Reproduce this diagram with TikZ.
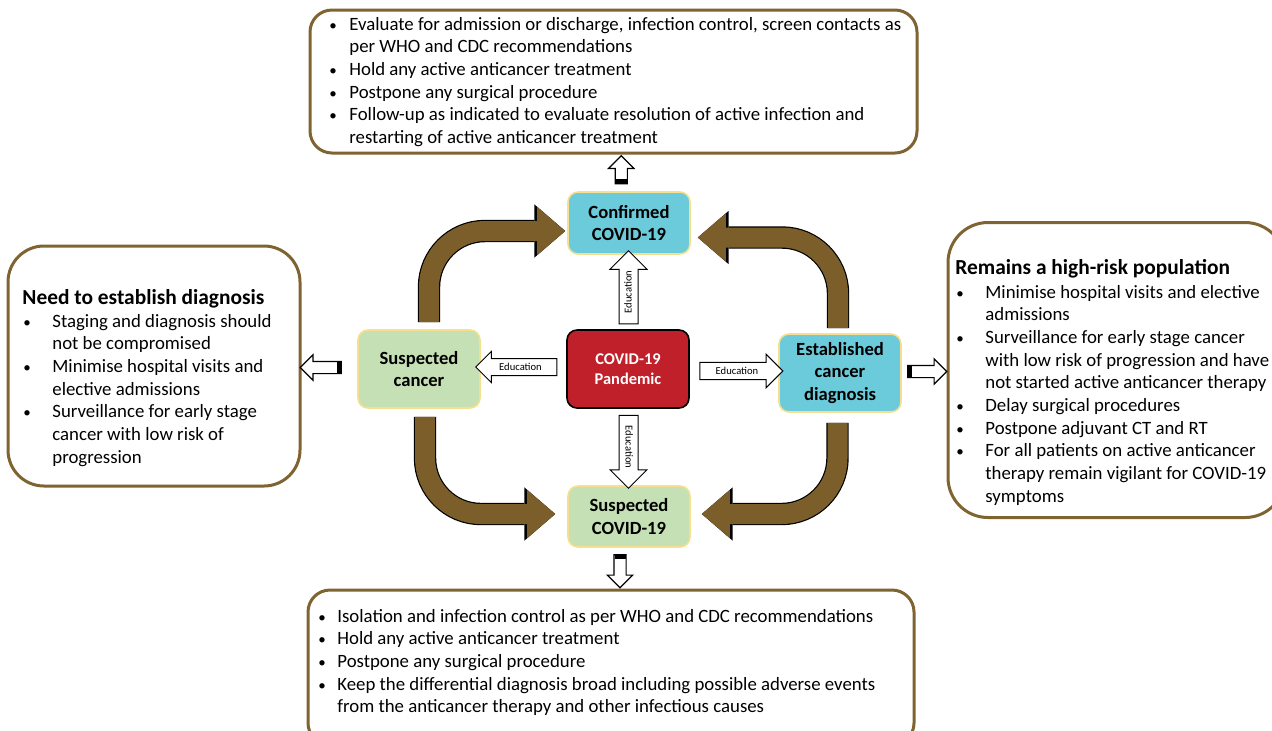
\documentclass[tikz,border=0pt]{standalone}
\usepackage{fontspec}
\setmainfont{Carlito}
\usetikzlibrary{positioning,arrows.meta,shapes.arrows,calc}
\definecolor{boxbrown}{HTML}{7F6330}
\definecolor{arrowbrown}{HTML}{7B5E2A}
\definecolor{cyanfill}{HTML}{6CCBDA}
\definecolor{greenfill}{HTML}{C5E0B4}
\definecolor{pandemicred}{HTML}{C0202A}
\definecolor{stageline}{HTML}{F6E08F}
\newcommand{\bodyfont}{\fontsize{9.4}{11.35}\selectfont}
\newcommand{\headfont}{\bfseries\fontsize{10.7}{13}\selectfont}
\newcommand{\bul}{{\fontsize{7.5}{8}\selectfont\textbullet}}

\begin{document}
\begin{tikzpicture}[x=0.5pt, y=-0.5pt,
    infobox/.style={draw=boxbrown, line width=1.5pt, fill=white},
    stage/.style={rectangle, rounded corners=5pt, draw=stageline, line width=0.8pt,
                  minimum width=61pt, align=center, font=\bfseries\fontsize{9.3}{11.3}\selectfont},
    edu/.style={single arrow, draw, fill=white, line width=0.5pt, single arrow tip angle=90,
                text height=4pt, text depth=1pt, inner xsep=0pt, font=\fontsize{5.3}{6}\selectfont},
    hollow/.style={single arrow, draw, fill=white, line width=0.6pt, inner xsep=0pt,
                   inner ysep=2.75pt, single arrow head extend=3.25pt, single arrow tip angle=90},
    bar/.style={line width=5.5pt},
    bigarrow/.style={draw=arrowbrown, line width=10pt, rounded corners=28pt,
                     -{Triangle[length=14pt, width=24pt, line width=0pt]},
                     preaction={draw=black, line width=11.2pt,
                                -{Triangle[length=15.4pt, width=26.6pt, line width=0pt]}}},
    listtext/.style={anchor=base west, inner sep=0pt, font=\bodyfont},
    heading/.style={anchor=base west, inner sep=0pt, font=\headfont},
]
  \clip (0,0) rectangle (1272,730);

  % text boxes
  \node[infobox, rounded corners=11pt, minimum width=303.5pt, minimum height=71.5pt] (topbox) at (613.5,81.5) {};
  \node[infobox, rounded corners=18pt, minimum width=146pt, minimum height=120pt] (leftbox) at (154,366) {};
  \node[infobox, rounded corners=20pt, minimum width=168.5pt, minimum height=147.5pt] (rightbox) at (1116.5,370) {};
  \node[infobox, rounded corners=11pt, minimum width=303pt, minimum height=77.5pt] (bottombox) at (611,667.5) {};

  % stages
  \node[stage, fill=cyanfill, minimum height=31pt] (confirmed) at (629,223) {Confirmed\\COVID-19};
  \node[stage, fill=pandemicred, draw=black, text=white, minimum height=39pt,
        font=\bfseries\fontsize{8.2}{9.7}\selectfont] (pandemic) at (628,369) {COVID-19\\Pandemic};
  \node[stage, fill=greenfill, minimum height=39pt] (scancer) at (419,369) {Suspected\\cancer};
  \node[stage, fill=cyanfill, minimum height=39pt] (established) at (840,373) {Established\\cancer\\diagnosis};
  \node[stage, fill=greenfill, minimum height=30.5pt] (scovid) at (629,516.5) {Suspected\\COVID-19};

  % education arrows
  \node[edu, rotate=90, minimum height=36.5pt, inner ysep=2pt, single arrow head extend=4.5pt]
    (eduup) at ($(pandemic.north)!0.5!(confirmed.south)$) {Education};
  \node[edu, rotate=-90, minimum height=36.5pt, inner ysep=2pt, single arrow head extend=4.5pt]
    (edudown) at ($(pandemic.south)!0.5!(scovid.north)$) {Education};
  \node[edu, shape border rotate=180, minimum height=40.5pt, inner ysep=1.5pt,
        single arrow head extend=3.5pt, xshift=-1.5pt, yshift=1pt]
    (eduleft) at ($(pandemic.west)!0.5!(scancer.east)$) {Education};
  \node[edu, minimum height=41.5pt, inner ysep=1.6pt, single arrow head extend=4pt, xshift=1.5pt]
    (eduright) at ($(pandemic.east)!0.5!(established.west)$) {Education};

  % arrows to the text boxes
  \node[hollow, rotate=90, minimum height=14pt] (toup) at ($(confirmed.north)!0.5!(topbox.south)$) {};
  \node[hollow, rotate=-90, minimum height=16.5pt] (todown) at ($(scovid.south)!0.5!(bottombox.north)$) {};
  \node[hollow, shape border rotate=180, minimum height=20.5pt, xshift=-2.75pt] (toleft) at ($(scancer.west)!0.5!(leftbox.east)$) {};
  \node[hollow, minimum height=19.5pt] (toright) at ($(established.east)!0.5!(rightbox.west)$) {};
  \draw[bar] (toup.tail) -- ($(toup.tail)!2.5pt!(toup.tip)$);
  \draw[bar] (todown.tail) -- ($(todown.tail)!2.5pt!(todown.tip)$);
  \draw[bar] (toleft.tail) -- ($(toleft.tail)!2.5pt!(toleft.tip)$);
  \draw[bar] (toright.tail) -- ($(toright.tail)!2.5pt!(toright.tip)$);

  % pathways
  \draw[bigarrow, shorten >=1pt] ([xshift=5pt, yshift=3.5pt]scancer.north) |- ([yshift=-4pt]confirmed.west);
  \draw[bigarrow, shorten >=3.5pt] ([xshift=-1pt, yshift=2.5pt]established.north) |- ([yshift=-7.25pt]confirmed.east);
  \draw[bigarrow, shorten >=6pt] ([xshift=3pt, yshift=-4pt]scancer.south) |- ([yshift=1.25pt]scovid.west);
  \draw[bigarrow, shorten >=5.5pt] ([xshift=-1.25pt, yshift=-5pt]established.south) |- ([yshift=1.25pt]scovid.east);

  % box texts
  \node[listtext] (toplist) at (329,30) {\begin{tabular}[t]{@{}p{10pt}@{}l@{}}
    \bul & Evaluate for admission or discharge, infection control, screen contacts as\\
         & per WHO and CDC recommendations\\
    \bul & Hold any active anticancer treatment\\
    \bul & Postpone any surgical procedure\\
    \bul & Follow-up as indicated to evaluate resolution of active infection and\\
         & restarting of active anticancer treatment
  \end{tabular}};
  \node[heading] (lefthead) at (22,304) {Need to establish diagnosis};
  \node[listtext] (leftlist) at (23,327) {\begin{tabular}[t]{@{}p{14.5pt}@{}l@{}}
    \bul & Staging and diagnosis should\\
         & not be compromised\\
    \bul & Minimise hospital visits and\\
         & elective admissions\\
    \bul & Surveillance for early stage\\
         & cancer with low risk of\\
         & progression
  \end{tabular}};
  \node[heading] (righthead) at (955,274) {Remains a high-risk population};
  \node[listtext] (rightlist) at (956,298) {\begin{tabular}[t]{@{}p{14.5pt}@{}l@{}}
    \bul & Minimise hospital visits and elective\\
         & admissions\\
    \bul & Surveillance for early stage cancer\\
         & with low risk of progression and have\\
         & not started active anticancer therapy\\
    \bul & Delay surgical procedures\\
    \bul & Postpone adjuvant CT and RT\\
    \bul & For all patients on active anticancer\\
         & therapy remain vigilant for COVID-19\\
         & symptoms
  \end{tabular}};
  \node[listtext] (bottomlist) at (318,622) {\begin{tabular}[t]{@{}p{9.5pt}@{}l@{}}
    \bul & Isolation and infection control as per WHO and CDC recommendations\\
    \bul & Hold any active anticancer treatment\\
    \bul & Postpone any surgical procedure\\
    \bul & Keep the differential diagnosis broad including possible adverse events\\
         & from the anticancer therapy and other infectious causes
  \end{tabular}};
\end{tikzpicture}
\end{document}
